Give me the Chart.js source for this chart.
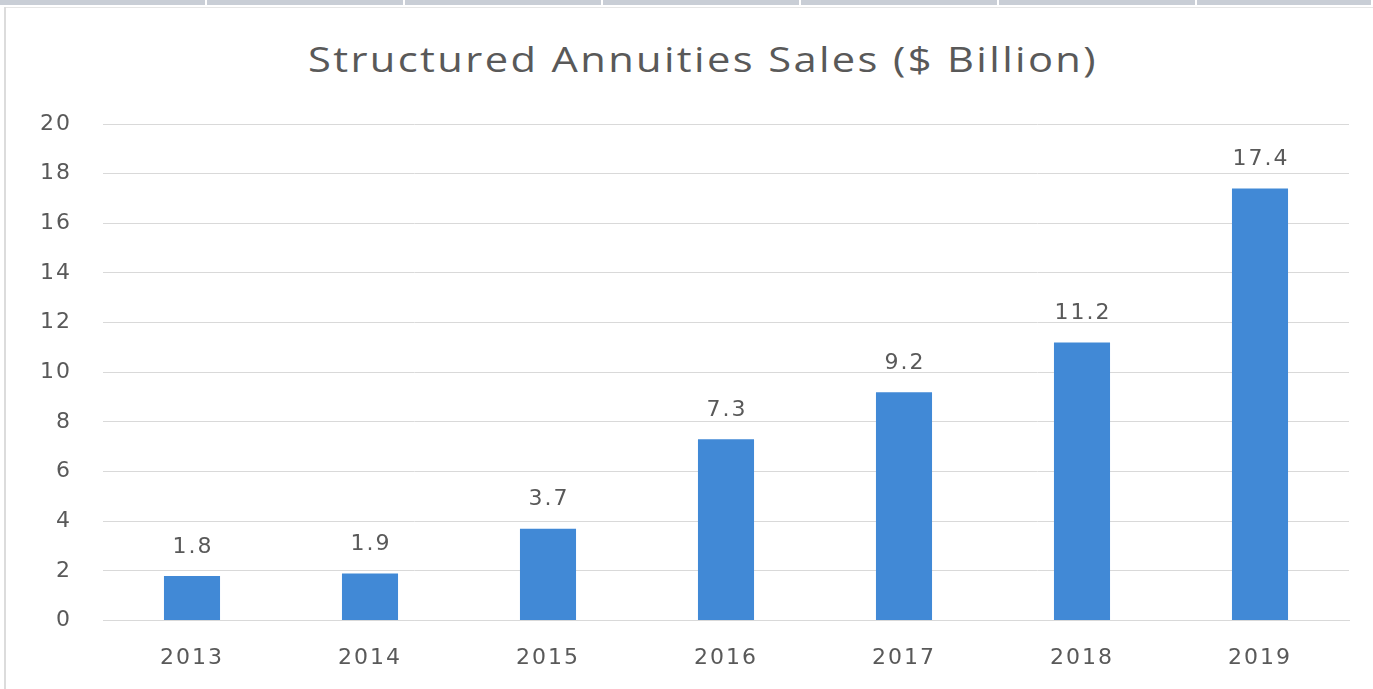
<!DOCTYPE html>
<html>
<head>
<meta charset="utf-8">
<script src="https://cdn.jsdelivr.net/npm/chart.js@4"></script>
<style>
  html, body { margin: 0; padding: 0; background: #ffffff; }
  #wrap { position: relative; width: 1373px; height: 689px; overflow: hidden; background: #fff; }
  #band { position: absolute; left: 0; top: 0; width: 1373px; height: 5px; display: flex; }
  #band div { height: 5px; background: #c9ced6; border-right: 2px solid #ffffff; box-sizing: border-box; }
  #frameTop { position: absolute; left: 4px; top: 7px; width: 1369px; height: 1px; background: #e6e6e6; }
  #frameLeft { position: absolute; left: 4px; top: 7px; width: 2px; height: 682px; background: #dcdcdc; }
  #title { position: absolute; left: 0; top: 36px; width: 1406px; text-align: center;
           font-family: "Open Sans", sans-serif; font-size: 35px; color: #595959; letter-spacing: 2px; line-height: 46px;
           transform: scaleX(1.19); transform-origin: 703px 0; }
  #chartBox { position: absolute; left: 0; top: 0; width: 1373px; height: 695px; }
</style>
</head>
<body>
<div id="wrap">
  <div id="band">
    <div style="width:207px"></div><div style="width:198px"></div><div style="width:198px"></div>
    <div style="width:198px"></div><div style="width:198px"></div><div style="width:198px"></div><div style="width:176px"></div>
  </div>
  <div id="frameTop"></div>
  <div id="frameLeft"></div>
  <div id="title">Structured Annuities Sales ($ Billion)</div>
  <div id="chartBox"><canvas id="c"></canvas></div>
</div>
<script>
const categories = ["2013", "2014", "2015", "2016", "2017", "2018", "2019"];
const salesValues = [1.8, 1.9, 3.7, 7.3, 9.2, 11.2, 17.4];
const yTicks = [0, 2, 4, 6, 8, 10, 12, 14, 16, 18, 20];

const TEXT = "#595959";
const FONT = "'DejaVu Sans', Verdana, sans-serif";

const spacingPlugin = {
  id: "spacing",
  beforeLayout(chart) { chart.ctx.letterSpacing = "2px"; },
  beforeDraw(chart) { chart.ctx.letterSpacing = "2px"; }
};

const labelPlugin = {
  id: "valueLabels",
  afterDatasetsDraw(chart) {
    const ctx = chart.ctx;
    const meta = chart.getDatasetMeta(0);
    ctx.save();
    ctx.letterSpacing = "2px";
    ctx.font = "22px " + FONT;
    ctx.fillStyle = TEXT;
    ctx.textAlign = "center";
    ctx.textBaseline = "middle";
    meta.data.forEach((bar, i) => {
      ctx.fillText(String(chart.data.datasets[0].data[i]), bar.x + 1, bar.y - 29);
    });
    ctx.restore();
  }
};

new Chart(document.getElementById("c"), {
  type: "bar",
  data: {
    labels: categories,
    datasets: [{
      data: salesValues,
      backgroundColor: "#4189d6",
      borderWidth: 0,
      categoryPercentage: 1.0,
      barPercentage: 0.315
    }]
  },
  options: {
    responsive: true,
    maintainAspectRatio: false,
    animation: false,
    events: [],
    layout: { padding: { top: 124, right: 24, bottom: 0, left: 0 } },
    plugins: { legend: { display: false }, title: { display: false }, tooltip: { enabled: false } },
    scales: {
      x: {
        grid: { display: false, drawTicks: false },
        border: { display: true, color: "#d9d9d9", width: 1 },
        ticks: { color: TEXT, font: { family: FONT, size: 22 }, padding: 24, maxRotation: 0 }
      },
      y: {
        min: 0, max: 20,
        afterBuildTicks(scale) { scale.ticks = yTicks.map(v => ({ value: v })); },
        afterFit(scale) { scale.width = 103; },
        grid: { color: "#d9d9d9", lineWidth: 1, drawTicks: false },
        border: { display: false },
        ticks: { color: TEXT, font: { family: FONT, size: 22 }, padding: 31 }
      }
    }
  },
  plugins: [spacingPlugin, labelPlugin]
});
</script>
</body>
</html>
